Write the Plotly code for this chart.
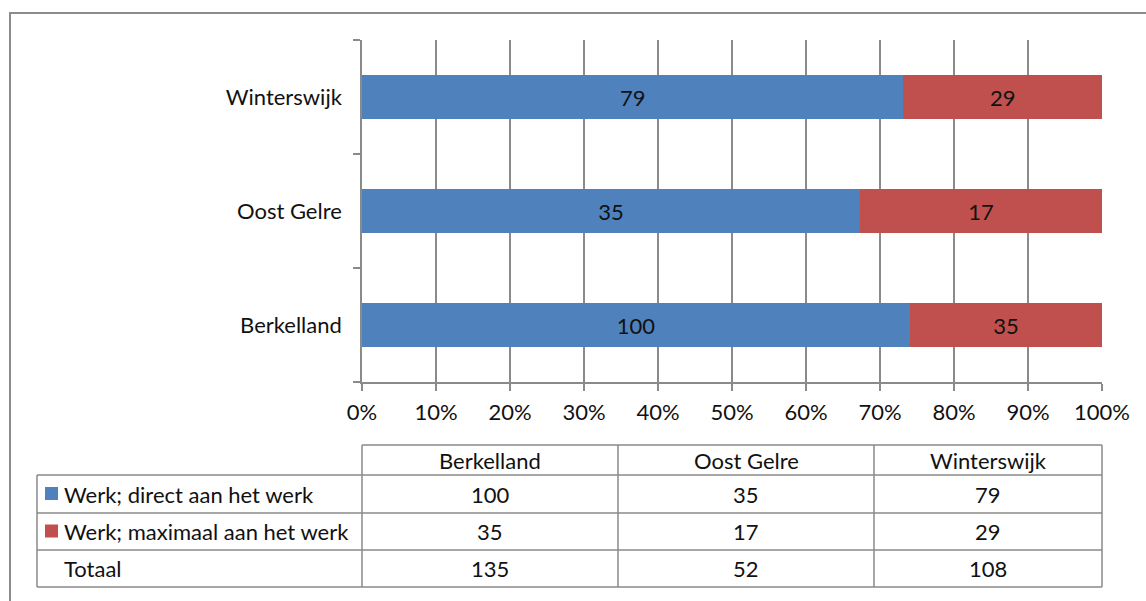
import plotly.graph_objects as go

W, H = 1146, 601

gemeenten = ["Berkelland", "Oost Gelre", "Winterswijk"]
direct = [100, 35, 79]
maximaal = [35, 17, 29]
totaal = [135, 52, 108]
reeks_namen = ["Werk; direct aan het werk", "Werk; maximaal aan het werk", "Totaal"]
kleuren = ["#4F81BD", "#C0504D"]
x_ticks = [0, 10, 20, 30, 40, 50, 60, 70, 80, 90, 100]

FONT = "Lato"
FSIZE = 22
GRID = "#8a8a8a"


def px(x):
    return x / W


def py(y):
    return 1 - y / H


fig = go.Figure()
for naam, vals, kleur in zip(reeks_namen[:2], [direct, maximaal], kleuren):
    fig.add_trace(go.Bar(
        y=gemeenten, x=vals, orientation="h", name=naam,
        marker=dict(color=kleur, line=dict(width=0)),
        text=vals, texttemplate="%{text}", textposition="inside",
        insidetextanchor="middle", constraintext="none",
        textfont=dict(family=FONT, size=FSIZE, color="#111111"),
        showlegend=False,
    ))

fig.update_layout(
    width=W, height=H,
    margin=dict(l=0, r=0, t=0, b=0, autoexpand=False),
    paper_bgcolor="white", plot_bgcolor="white",
    barmode="stack", barnorm="percent", bargap=0.61,
    font=dict(family=FONT, size=FSIZE, color="#111111"),
    xaxis=dict(
        domain=[px(362), px(1102)], range=[0, 100],
        tickvals=x_ticks, ticktext=[f"{t}%" for t in x_ticks],
        showgrid=True, gridcolor=GRID, gridwidth=1.5,
        showline=True, linecolor=GRID, linewidth=1.5,
        ticks="outside", ticklen=7, tickcolor=GRID, tickwidth=1.5,
        zeroline=False, tickfont=dict(size=FSIZE), ticklabelstandoff=3,
        automargin=False,
    ),
    yaxis=dict(
        domain=[py(382), py(40)], range=[-0.5, 2.5],
        type="category", categoryorder="array", categoryarray=gemeenten,
        tickson="boundaries", ticks="outside", ticklen=7,
        tickcolor=GRID, tickwidth=1.5,
        showline=True, linecolor=GRID, linewidth=1.5,
        showgrid=False, zeroline=False, tickfont=dict(size=FSIZE),
        ticklabelstandoff=14, automargin=False,
    ),
)

shapes = []
# outer border of the chart
shapes.append(dict(type="rect", xref="paper", yref="paper",
                   x0=px(10), x1=px(W + 10), y0=py(H + 10), y1=py(13),
                   line=dict(color="#8c8c8c", width=2)))


def hline(x0, x1, y):
    shapes.append(dict(type="line", xref="paper", yref="paper",
                       x0=px(x0), x1=px(x1), y0=py(y), y1=py(y),
                       line=dict(color=GRID, width=1.5)))


def vline(x, y0, y1):
    shapes.append(dict(type="line", xref="paper", yref="paper",
                       x0=px(x), x1=px(x), y0=py(y0), y1=py(y1),
                       line=dict(color=GRID, width=1.5)))


# data table below the chart
col_x = [362, 618, 874, 1102]
row_y = [445, 475, 513, 550, 587]
hline(362, 1102, row_y[0])
for y in row_y[1:]:
    hline(37, 1102, y)
vline(37, row_y[1], row_y[-1])
for x in col_x:
    vline(x, row_y[0], row_y[-1])

annotations = []
tfont = dict(family=FONT, size=FSIZE, color="#111111")
for i, g in enumerate(gemeenten):
    cx = (col_x[i] + col_x[i + 1]) / 2
    annotations.append(dict(x=px(cx), y=py((row_y[0] + row_y[1]) / 2), xref="paper", yref="paper",
                            text=g, showarrow=False, xanchor="center", yanchor="middle", font=tfont))
    for r, vals in enumerate([direct, maximaal, totaal]):
        cy = (row_y[r + 1] + row_y[r + 2]) / 2
        annotations.append(dict(x=px(cx), y=py(cy), xref="paper", yref="paper",
                                text=str(vals[i]), showarrow=False, xanchor="center",
                                yanchor="middle", font=tfont))

for r, naam in enumerate(reeks_namen):
    cy = (row_y[r + 1] + row_y[r + 2]) / 2
    annotations.append(dict(x=px(62), y=py(cy), xref="paper", yref="paper",
                            text=naam, showarrow=False, xanchor="left",
                            yanchor="middle", font=tfont))
    if r < 2:
        shapes.append(dict(type="rect", xref="paper", yref="paper",
                           x0=px(45), x1=px(58), y0=py(cy + 6), y1=py(cy - 7),
                           fillcolor=kleuren[r], line=dict(width=0)))

fig.update_layout(shapes=shapes, annotations=annotations)

fig.write_html(
    "out.html",
    config={"displayModeBar": False},
    post_script="document.body.style.margin='0';document.body.style.overflow='hidden';",
)
